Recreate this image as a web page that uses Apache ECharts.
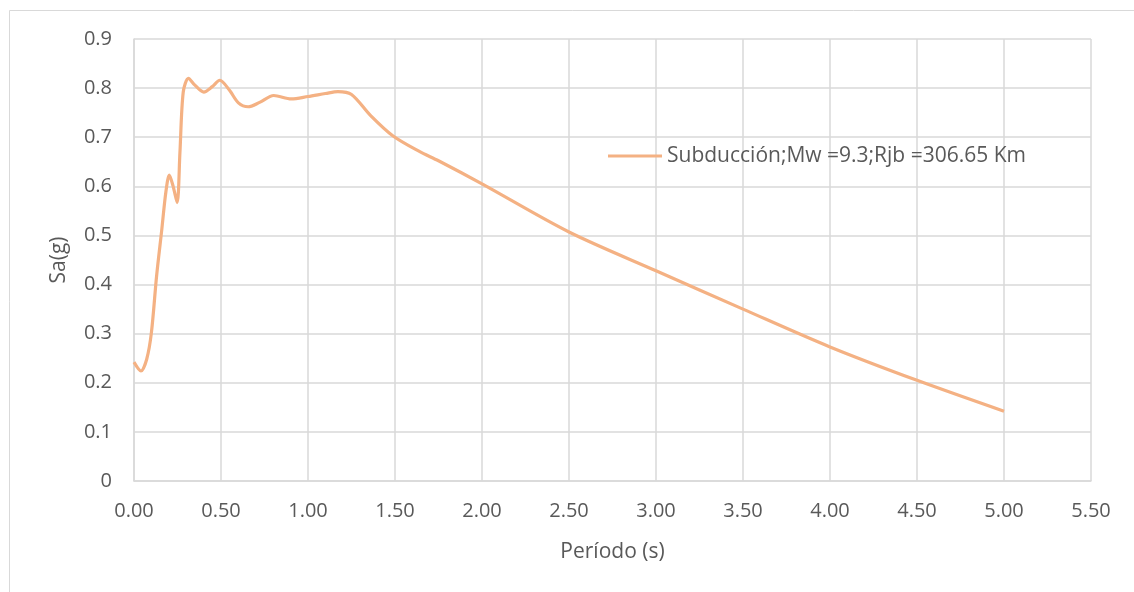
<!DOCTYPE html>
<html>
<head>
<meta charset="utf-8">
<script src="https://cdn.jsdelivr.net/npm/echarts@6/dist/echarts.min.js"></script>
<style>
html,body{margin:0;padding:0;background:#fff;}
#c{width:1134px;height:592px;}
</style>
</head>
<body>
<div id="c"></div>
<script>
const seriesName = 'Subducción;Mw =9.3;Rjb =306.65 Km';
const periods = [0, 0.04, 0.073, 0.10, 0.13, 0.16, 0.183, 0.203, 0.225, 0.248, 0.264, 0.283, 0.313, 0.35, 0.401, 0.45, 0.493, 0.55, 0.60, 0.656, 0.722, 0.803, 0.904, 1.0, 1.1, 1.172, 1.25, 1.36, 1.487, 1.64, 1.75, 2.0, 2.5, 3.0, 3.5, 4.0, 4.5, 5.0];
const sa = [0.242, 0.224, 0.248, 0.302, 0.418, 0.513, 0.588, 0.623, 0.600, 0.567, 0.669, 0.792, 0.820, 0.806, 0.792, 0.803, 0.816, 0.795, 0.770, 0.762, 0.771, 0.785, 0.778, 0.783, 0.789, 0.793, 0.787, 0.744, 0.703, 0.671, 0.652, 0.605, 0.507, 0.428, 0.350, 0.273, 0.205, 0.142];
const xTicks = [0, 0.5, 1, 1.5, 2, 2.5, 3, 3.5, 4, 4.5, 5, 5.5];
const yTicks = [0, 0.1, 0.2, 0.3, 0.4, 0.5, 0.6, 0.7, 0.8, 0.9];

const FONT = '"Open Sans", sans-serif';
const TXT = '#595959';
const GRID = '#D9D9D9';

const chart = echarts.init(document.getElementById('c'), null, {renderer: 'canvas'});
chart.setOption({
  backgroundColor: '#fff',
  animation: false,
  textStyle: {fontFamily: FONT},
  graphic: [{
    type: 'rect', left: 7, top: 8,
    shape: {x: 0.5, y: 0.5, width: 1200, height: 700},
    style: {fill: 'none', stroke: GRID, lineWidth: 1},
    silent: true, z: -10
  }],
  grid: {left: 134, top: 39, right: 43, bottom: 111, containLabel: false},
  legend: {
    show: true,
    left: 608, top: 144, padding: 0,
    icon: 'rect', itemWidth: 54, itemHeight: 3,
    data: [seriesName],
    textStyle: {color: TXT, fontSize: 21, fontFamily: FONT, lineHeight: 24}
  },
  xAxis: {
    type: 'value', min: xTicks[0], max: xTicks[xTicks.length - 1], interval: 0.5,
    name: 'Período (s)', nameLocation: 'middle', nameGap: 61,
    nameTextStyle: {color: TXT, fontSize: 21, fontFamily: FONT},
    axisLine: {show: true, lineStyle: {color: GRID, width: 1.5}},
    axisTick: {show: false},
    axisLabel: {color: TXT, fontSize: 20, fontFamily: FONT, margin: 20,
      formatter: v => v.toFixed(2)},
    splitLine: {show: true, lineStyle: {color: GRID, width: 1.5}}
  },
  yAxis: {
    type: 'value', min: yTicks[0], max: yTicks[yTicks.length - 1], interval: 0.1,
    name: 'Sa(g)', nameLocation: 'middle', nameGap: 64, nameRotate: 90,
    nameTextStyle: {color: TXT, fontSize: 21, fontFamily: FONT},
    axisLine: {show: true, lineStyle: {color: GRID, width: 1.5}},
    axisTick: {show: false},
    axisLabel: {color: TXT, fontSize: 20, fontFamily: FONT, margin: 22,
      formatter: v => (Math.abs(v) < 1e-9 ? '0' : v.toFixed(1))},
    splitLine: {show: true, lineStyle: {color: GRID, width: 1.5}}
  },
  series: [{
    name: seriesName,
    type: 'line',
    data: periods.map((t, i) => [t, sa[i]]),
    smooth: 0.3,
    showSymbol: false,
    symbol: 'none',
    lineStyle: {color: '#F4B183', width: 3.2},
    itemStyle: {color: '#F4B183'}
  }]
});
</script>
</body>
</html>
